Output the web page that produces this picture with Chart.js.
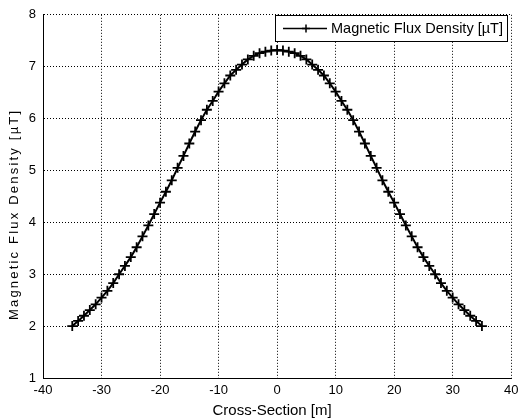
<!DOCTYPE html>
<html>
<head>
<meta charset="utf-8">
<script src="https://cdn.jsdelivr.net/npm/chart.js@4.4.0/dist/chart.umd.min.js"></script>
<style>
  html, body { margin: 0; padding: 0; background: #fff; }
  #chart { display: block; }
</style>
</head>
<body>
<canvas id="chart" width="518" height="420"></canvas>
<script>
// cross-section position [m], one marker per metre
const crossSection = [
  -35, -34, -33, -32, -31, -30, -29, -28, -27, -26, -25, -24, -23, -22, -21, -20, -19, -18,
  -17, -16, -15, -14, -13, -12, -11, -10, -9, -8, -7, -6, -5, -4, -3, -2, -1,
  0, 1, 2, 3, 4, 5, 6, 7, 8, 9, 10, 11, 12, 13, 14, 15, 16, 17,
  18, 19, 20, 21, 22, 23, 24, 25, 26, 27, 28, 29, 30, 31, 32, 33, 34, 35
];
// magnetic flux density [uT]
const fluxDensity = [
  2.00, 2.10, 2.20, 2.31, 2.42, 2.55, 2.68, 2.83, 3.00, 3.16, 3.33, 3.52, 3.73, 3.94, 4.16, 4.38, 4.59, 4.81,
  5.05, 5.28, 5.52, 5.75, 5.97, 6.17, 6.34, 6.52, 6.68, 6.83, 6.94, 7.04, 7.14, 7.21, 7.26, 7.29, 7.31,
  7.32, 7.31, 7.29, 7.26, 7.21, 7.14, 7.04, 6.94, 6.83, 6.68, 6.52, 6.34, 6.17, 5.97, 5.75, 5.52, 5.28, 5.05,
  4.81, 4.59, 4.38, 4.16, 3.94, 3.73, 3.52, 3.33, 3.16, 3.00, 2.83, 2.68, 2.55, 2.42, 2.31, 2.20, 2.10, 2.00
];
const xTicks = [-40, -30, -20, -10, 0, 10, 20, 30, 40];
const yTicks = [1, 2, 3, 4, 5, 6, 7, 8];
const seriesLabel = "Magnetic Flux Density [µT]";
const xTitle = "Cross-Section [m]";
const yTitle = "Magnetic Flux Density [µT]";

const FONT = "'Liberation Sans', Arial, Helvetica, sans-serif";

// matlab style legend box in the upper right corner
const matlabLegend = {
    id: "matlabLegend",
    afterDraw(chart) {
        const ctx = chart.ctx;
        ctx.save();
        ctx.fillStyle = "#fff";
        ctx.strokeStyle = "#000";
        ctx.lineWidth = 1;
        ctx.fillRect(275.5, 15.5, 232, 26);
        ctx.strokeRect(275.5, 15.5, 232, 26);
        ctx.lineWidth = 1.5;
        ctx.beginPath();
        ctx.moveTo(283, 28.5);
        ctx.lineTo(327, 28.5);
        ctx.stroke();
        Chart.helpers.drawPoint(ctx, { pointStyle: "cross", radius: 4, borderWidth: 1.5, rotation: 0 }, 306, 28.5);
        ctx.fillStyle = "#000";
        ctx.font = "14.5px " + FONT;
        ctx.textBaseline = "middle";
        ctx.fillText(seriesLabel, 331, 29);
        ctx.restore();
    },
};

// the axis labels sit a little off centre in the original, the y one spread out
function nudgeTitle(scale, dx, dy, spacing) {
    if (scale.nudged) {
        return;
    }
    const drawTitle = scale.drawTitle;
    scale.drawTitle = function (...args) {
        this.ctx.save();
        this.ctx.translate(dx, dy);
        this.ctx.letterSpacing = spacing;
        drawTitle.apply(this, args);
        this.ctx.restore();
    };
    scale.nudged = true;
}

new Chart(document.getElementById("chart"), {
    type: "line",
    data: {
        datasets: [
            {
                label: seriesLabel,
                data: crossSection.map((x, i) => ({ x, y: fluxDensity[i] })),
                borderColor: "#000",
                backgroundColor: "#000",
                borderWidth: 2,
                pointStyle: "cross",
                pointRadius: 5,
                pointBorderWidth: 1.8,
                pointBorderColor: "#000",
                tension: 0,
                fill: false,
            },
        ],
    },
    options: {
        responsive: false,
        animation: false,
        devicePixelRatio: 1,
        layout: { padding: { top: 9, right: 5, left: 0, bottom: 0 } },
        plugins: {
            legend: { display: false },
            tooltip: { enabled: false },
        },
        scales: {
            x: {
                type: "linear",
                min: -40,
                max: 40,
                afterBuildTicks: (scale) => {
                    scale.ticks = xTicks.map((value) => ({ value }));
                },
                afterFit: (scale) => {
                    scale.height = 42;
                    scale.paddingLeft = 0;
                    scale.paddingRight = 0;
                    nudgeTitle(scale, -5, 0, "0px");
                },
                ticks: {
                    autoSkip: false,
                    maxRotation: 0,
                    padding: 5,
                    color: "#000",
                    font: { family: FONT, size: 13 },
                },
                grid: { color: "#000", lineWidth: 1, drawTicks: false },
                border: { display: true, color: "#000", width: 1, dash: [1, 2] },
                title: {
                    display: true,
                    text: xTitle,
                    color: "#000",
                    font: { family: FONT, size: 15 },
                    padding: { top: 0, bottom: 0 },
                },
            },
            y: {
                type: "linear",
                min: 1,
                max: 8,
                afterBuildTicks: (scale) => {
                    scale.ticks = yTicks.map((value) => ({ value }));
                },
                afterFit: (scale) => {
                    scale.width = 43;
                    nudgeTitle(scale, 0, 18, "2.2px");
                },
                ticks: {
                    padding: 7,
                    color: "#000",
                    font: { family: FONT, size: 13 },
                },
                grid: { color: "#000", lineWidth: 1, drawTicks: false },
                border: { display: true, color: "#000", width: 1, dash: [1, 2] },
                title: {
                    display: true,
                    text: yTitle,
                    color: "#000",
                    font: { family: FONT, size: 13 },
                    padding: { top: 7, bottom: 0 },
                },
            },
        },
    },
    plugins: [matlabLegend],
});
</script>
</body>
</html>
